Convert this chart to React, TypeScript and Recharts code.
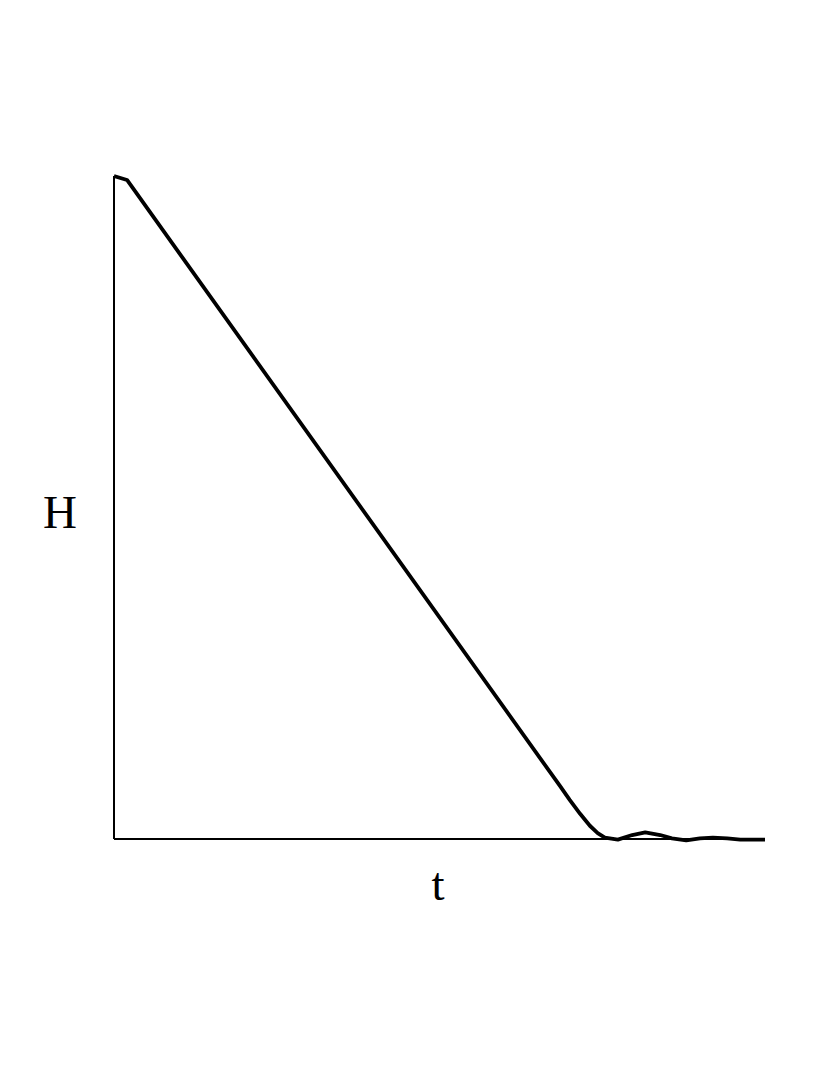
import React from "react";
import { LineChart, Line, XAxis, YAxis, ReferenceLine } from "recharts";

const tValues = [0, 0.2, 6.85, 7.0, 7.16, 7.31, 7.43, 7.54, 7.74, 7.96, 8.16, 8.39, 8.57, 8.79, 9.0, 9.2, 9.42, 9.62, 10];
const hValues = [10, 9.94, 0.8, 0.59, 0.38, 0.2, 0.09, 0.02, -0.01, 0.06, 0.1, 0.06, 0.01, -0.02, 0.01, 0.02, 0.01, -0.01, -0.01];
const xLabel = "t";
const yLabel = "H";

const data = tValues.map((t, i) => ({ t, h: hValues[i] }));

export default function App() {
  const W = 830;
  const H = 1075;
  return (
    <div style={{ position: "absolute", left: 0, top: 0, width: W, height: H, background: "#fff" }}>
      <LineChart
        width={W}
        height={H}
        data={data}
        margin={{ top: 169.37, right: 65, bottom: 229.37, left: 114 }}
      >
        <XAxis type="number" dataKey="t" domain={[0, 10]} hide allowDataOverflow />
        <YAxis type="number" domain={[-0.1, 10.1]} hide allowDataOverflow />
        <ReferenceLine
          segment={[{ x: 0, y: 0 }, { x: 0, y: 10 }]}
          stroke="#000"
          strokeWidth={2}
          ifOverflow="visible"
        />
        <ReferenceLine
          segment={[{ x: 0, y: 0 }, { x: 10, y: 0 }]}
          stroke="#000"
          strokeWidth={2}
          ifOverflow="visible"
        />
        <Line
          type="linear"
          dataKey="h"
          stroke="#000"
          strokeWidth={3.8}
          dot={false}
          isAnimationActive={false}
          strokeLinejoin="round"
        />
      </LineChart>
      <div
        style={{
          position: "absolute",
          left: 0,
          width: 120,
          top: 484,
          textAlign: "center",
          fontFamily: "'Liberation Serif', serif",
          fontSize: 47,
          lineHeight: "56px",
          color: "#000",
        }}
      >
        {yLabel}
      </div>
      <div
        style={{
          position: "absolute",
          left: 378,
          width: 120,
          top: 856,
          textAlign: "center",
          fontFamily: "'Liberation Serif', serif",
          fontSize: 47,
          lineHeight: "56px",
          color: "#000",
        }}
      >
        {xLabel}
      </div>
    </div>
  );
}
